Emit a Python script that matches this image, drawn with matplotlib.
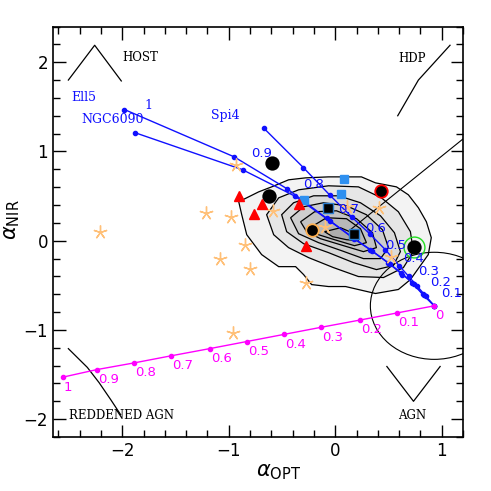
import numpy as np
import matplotlib
matplotlib.use("Agg")
import matplotlib.pyplot as plt
from matplotlib.patches import Ellipse

# AGN fraction along each mixing track (1 = pure host, 0 = pure AGN)
frac = [1, 0.9, 0.8, 0.7, 0.6, 0.5, 0.4, 0.3, 0.2, 0.1, 0]

ell5_x = [-1.98, -0.95, -0.45, -0.08, 0.17, 0.33, 0.50, 0.62, 0.72, 0.82, 0.93]
ell5_y = [1.47, 0.94, 0.58, 0.25, 0.03, -0.10, -0.25, -0.36, -0.47, -0.60, -0.73]
ngc_x = [-1.88, -0.87, -0.38, -0.05, 0.18, 0.35, 0.51, 0.63, 0.74, 0.83, 0.93]
ngc_y = [1.21, 0.795, 0.50, 0.22, 0.02, -0.12, -0.26, -0.38, -0.48, -0.61, -0.73]
spi4_x = [-0.67, -0.30, -0.05, 0.156, 0.33, 0.47, 0.60, 0.69, 0.77, 0.85, 0.93]
spi4_y = [1.26, 0.82, 0.51, 0.265, 0.07, -0.10, -0.28, -0.40, -0.51, -0.62, -0.73]

# reddening track
red_x = [-2.56, -2.24, -1.89, -1.54, -1.18, -0.83, -0.48, -0.13, 0.23, 0.58, 0.93]
red_y = [-1.53, -1.445, -1.37, -1.29, -1.21, -1.13, -1.05, -0.97, -0.89, -0.81, -0.73]
red_lab = ["1", "0.9", "0.8", "0.7", "0.6", "0.5", "0.4", "0.3", "0.2", "0.1", "0"]

# blue fraction labels
blab = ["0.9", "0.8", "0.7", "0.6", "0.5", "0.4", "0.3", "0.2", "0.1"]
blab_x = [-0.79, -0.30, 0.03, 0.28, 0.47, 0.64, 0.775, 0.893, 0.993]
blab_y = [0.98, 0.634, 0.346, 0.131, -0.056, -0.20, -0.343, -0.466, -0.592]

# sources
star_x = [-2.21, -1.21, -0.975, -0.85, -1.08, -0.80, -0.96, -0.93, -0.58, -0.27, -0.10, 0.11, 0.41, 0.52]
star_y = [0.10, 0.31, 0.26, -0.045, -0.20, -0.32, -1.03, 0.85, 0.33, -0.47, 0.15, 0.38, 0.37, -0.18]
circ_x = [-0.59, -0.62, -0.22, 0.43, 0.74]
circ_y = [0.87, 0.50, 0.115, 0.56, -0.07]
circ_edge = ["black", "black", "#FFB050", "red", "black"]
bsq_x = [-0.065, 0.18]
bsq_y = [0.365, 0.08]
lsq_x = [-0.29, 0.08, 0.05]
lsq_y = [0.46, 0.69, 0.52]
tri_x = [-0.905, -0.69, -0.76, -0.34, -0.275]
tri_y = [0.50, 0.41, 0.30, 0.41, -0.065]
ring_x, ring_y = [0.74], [-0.07]

# density contours (outer -> inner)
cont_x = [
    [-0.906, -0.719, -0.597, -0.438, -0.278, -0.063, 0.246, 0.378, 0.575, 0.687, 0.781, 0.856,
     0.902, 0.874, 0.706, 0.593, 0.378, 0.097, -0.063, -0.222, -0.297, -0.372, -0.531, -0.691,
     -0.831, -0.878],
    [-0.644, -0.531, -0.344, -0.063, 0.218, 0.434, 0.593, 0.706, 0.734, 0.640, 0.453, 0.218,
     -0.016, -0.250, -0.438, -0.578],
    [-0.503, -0.391, -0.203, 0.031, 0.237, 0.425, 0.556, 0.612, 0.546, 0.387, 0.171, -0.063,
     -0.297, -0.456],
    [-0.419, -0.297, -0.110, 0.106, 0.293, 0.443, 0.500, 0.425, 0.265, 0.059, -0.157, -0.344],
    [-0.325, -0.194, 0.012, 0.200, 0.350, 0.387, 0.265, 0.078, -0.138, -0.269],
    [-0.222, -0.082, 0.106, 0.237, 0.293, 0.181, -0.007, -0.157],
    [-0.100, 0.050, 0.181, 0.218, 0.106, -0.025],
]
cont_y = [
    [0.436, 0.547, 0.603, 0.682, 0.704, 0.715, 0.715, 0.648, 0.603, 0.514, 0.369, 0.212,
     0.034, -0.156, -0.436, -0.547, -0.592, -0.514, -0.514, -0.492, -0.380, -0.291, -0.291,
     -0.156, 0.067, 0.291],
    [0.291, 0.480, 0.570, 0.615, 0.603, 0.480, 0.324, 0.101, -0.123, -0.302, -0.413, -0.402,
     -0.302, -0.190, -0.078, 0.067],
    [0.291, 0.425, 0.503, 0.503, 0.425, 0.279, 0.089, -0.123, -0.279, -0.324, -0.246, -0.134,
     -0.034, 0.101],
    [0.257, 0.380, 0.425, 0.391, 0.291, 0.123, -0.078, -0.201, -0.201, -0.112, -0.022, 0.078],
    [0.212, 0.324, 0.335, 0.246, 0.089, -0.078, -0.123, -0.056, 0.022, 0.101],
    [0.156, 0.257, 0.246, 0.134, -0.022, -0.056, 0.011, 0.067],
    [0.101, 0.145, 0.078, 0.0, 0.011, 0.045],
]
cont_col = ["#f3f3f3", "#e6e6e6", "#dadada", "#cecece", "#c3c3c3", "#b8b8b8", "#adadad"]

# region markers
host_x, host_y = [-2.506, -2.259, -2.009], [1.80, 2.19, 1.79]
hdp_x, hdp_y = [0.587, 0.781, 1.078], [1.40, 1.80, 2.19]
agn_x, agn_y = [0.485, 0.735, 0.985], [-1.41, -1.80, -1.41]
redagn_x = [-2.506, -2.328, -2.218, -2.109, -2.015]
redagn_y = [-1.21, -1.42, -1.59, -1.78, -1.95]
hdpline_x, hdpline_y = [0.15, 1.2], [0.13, 1.14]

serif = ["DejaVu Serif"]

fig = plt.figure(figsize=(4.91, 4.91), dpi=100)
ax = fig.add_axes([0.108, 0.110, 0.835, 0.836])

for cx, cy, col in zip(cont_x, cont_y, cont_col):
    ax.fill(cx, cy, facecolor=col, edgecolor="black", lw=0.9, zorder=1)

ax.add_patch(Ellipse((0.93, -0.73), 1.2, 1.2, fill=False, ec="black", lw=0.8, zorder=2))
ax.plot(hdpline_x, hdpline_y, color="black", lw=0.8, zorder=2)
for mx, my in [(host_x, host_y), (hdp_x, hdp_y), (agn_x, agn_y), (redagn_x, redagn_y)]:
    ax.plot(mx, my, color="black", lw=0.9)

ax.text(-2.0, 2.05, "HOST", family=serif, fontsize=8.5, va="center")
ax.text(0.593, 2.04, "HDP", family=serif, fontsize=8.5, va="center")
ax.text(-2.50, -1.963, "REDDENED AGN", family=serif, fontsize=8.5, va="center")
ax.text(0.593, -1.963, "AGN", family=serif, fontsize=8.5, va="center")

# mixing tracks
for tx, ty in [(ell5_x, ell5_y), (ngc_x, ngc_y), (spi4_x, spi4_y)]:
    ax.plot(tx, ty, color="#1010FF", lw=1.0, marker="o", ms=3, zorder=3)
ax.text(-2.474, 1.606, "Ell5", color="#1010FF", family=serif, fontsize=9, va="center")
ax.text(-1.79, 1.51, "1", color="#1010FF", family=serif, fontsize=9, va="center")
ax.text(-2.38, 1.36, "NGC6090", color="#1010FF", family=serif, fontsize=9, va="center")
ax.text(-1.162, 1.40, "Spi4", color="#1010FF", family=serif, fontsize=9, va="center")
for lab, lx, ly in zip(blab, blab_x, blab_y):
    ax.text(lx, ly, lab, color="#1010FF", fontsize=9.5, va="center", zorder=6)

ax.plot(red_x, red_y, color="#FF00FF", lw=1.0, marker="o", ms=3, zorder=3)
for lab, lx, ly in zip(red_lab, red_x, red_y):
    ax.text(lx + 0.01, ly - 0.11, lab, color="#FF00FF", fontsize=9.5, va="center")

# sources
ax.plot(star_x, star_y, ls="none", marker=(5, 2, 0), ms=10, mec="#FFC078", mew=1.0, zorder=4)
ax.plot(ring_x, ring_y, ls="none", marker="o", ms=15, mfc="none", mec="#22DD22", mew=1.0, zorder=5)
for x, y, ec in zip(circ_x, circ_y, circ_edge):
    ax.plot(x, y, ls="none", marker="o", ms=9, mfc="black", mec=ec, mew=1.3, zorder=5)
ax.plot(lsq_x, lsq_y, ls="none", marker="s", ms=6, mfc="#2E90F0", mec="#2E90F0", zorder=5)
ax.plot(bsq_x, bsq_y, ls="none", marker="s", ms=7, mfc="black", mec="#2E7FD0", mew=1.0, zorder=5)
ax.plot(tri_x, tri_y, ls="none", marker="^", ms=7, mfc="red", mec="red", zorder=5)

ax.set_xlim(-2.65, 1.2)
ax.set_ylim(-2.2, 2.4)
ax.set_xticks([-2, -1, 0, 1])
ax.set_yticks([-2, -1, 0, 1, 2])
ax.set_xticks(np.arange(-2.6, 1.21, 0.2), minor=True)
ax.set_yticks(np.arange(-2.2, 2.41, 0.2), minor=True)
ax.tick_params(which="both", direction="in", top=True, right=True, width=1.0, labelsize=12)
ax.tick_params(which="major", length=9)
ax.tick_params(which="minor", length=5)
for s in ax.spines.values():
    s.set_linewidth(1.2)

ax.set_xlabel(r"$\alpha_{\mathsf{OPT}}$", fontsize=15)
ax.set_ylabel(r"$\alpha_{\mathsf{NIR}}$", fontsize=15)
ax.xaxis.set_label_coords(0.55, -0.06)
ax.yaxis.set_label_coords(-0.075, 0.53)

fig.savefig("out.png", dpi=100)
